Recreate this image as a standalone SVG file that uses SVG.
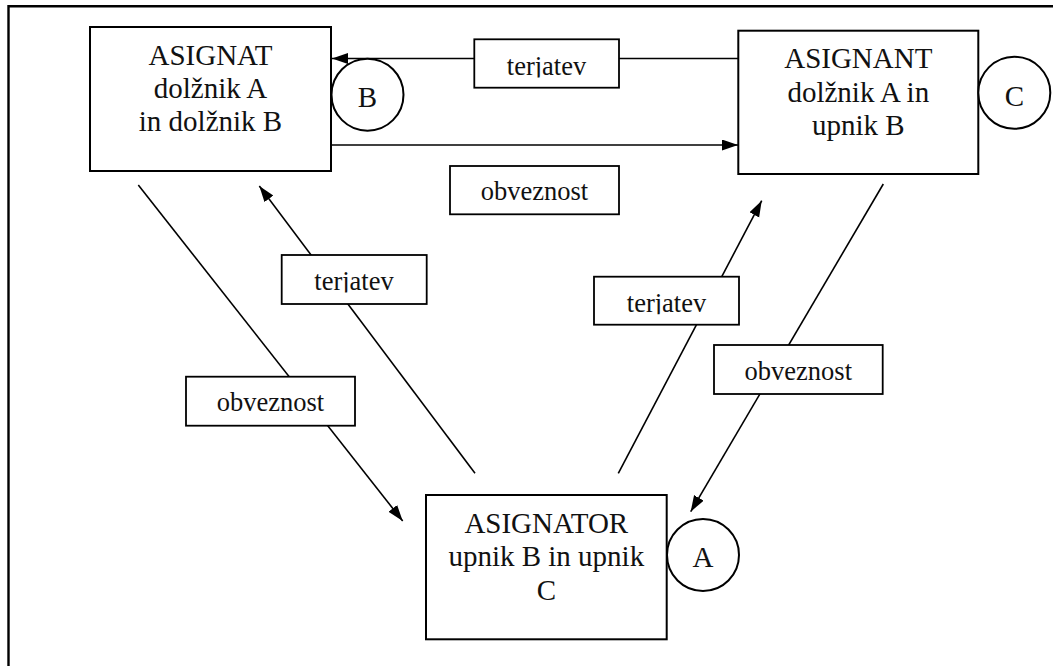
<svg xmlns="http://www.w3.org/2000/svg" width="1053" height="666" viewBox="0 0 1053 666">
<style>
.frame{fill:none;stroke:#000;stroke-width:2.4}
.box{fill:#fff;stroke:#000;stroke-width:2}
.lbl{fill:#fff;stroke:#000;stroke-width:1.8}
.ln{fill:none;stroke:#000;stroke-width:1.6}
.nt{font-family:'Liberation Serif','Times New Roman','DejaVu Serif',serif;font-size:29px;fill:#111;text-anchor:middle}
.lt{font-family:'Liberation Serif','Times New Roman','DejaVu Serif',serif;font-size:26.5px;fill:#111;text-anchor:middle}
</style>
<defs>
<marker id="arr" markerUnits="userSpaceOnUse" markerWidth="17" markerHeight="12" refX="16" refY="5.5" orient="auto">
<path d="M0,0 L16,5.5 L0,11 z" fill="#000"/>
</marker>
<clipPath id="c1"><rect x="470" y="35" width="150" height="42.5"/></clipPath>
<clipPath id="c2"><rect x="280" y="250" width="150" height="42.5"/></clipPath>
<clipPath id="c3"><rect x="590" y="272" width="150" height="42.2"/></clipPath>
</defs>
<rect width="1053" height="666" fill="#fff"/>
<path class="frame" d="M8.5,670 L8.5,6.2 L1060,6.2"/>
<g id="connectors">
<line class="ln" x1="739" y1="58.5" x2="332" y2="58.5" marker-end="url(#arr)"/>
<line class="ln" x1="331" y1="145" x2="738" y2="145" marker-end="url(#arr)"/>
<line class="ln" x1="138.3" y1="185" x2="402.7" y2="521" marker-end="url(#arr)"/>
<line class="ln" x1="475" y1="473.3" x2="259.3" y2="186" marker-end="url(#arr)"/>
<line class="ln" x1="618.3" y1="473.3" x2="761.7" y2="200.7" marker-end="url(#arr)"/>
<line class="ln" x1="883.3" y1="184" x2="690.7" y2="511.7" marker-end="url(#arr)"/>
<g id="label-terjatev-top"><rect class="lbl" x="474.3" y="39.3" width="144.7" height="48.4"/><text class="lt" font-family="Liberation Serif, serif" x="546.5" y="75" clip-path="url(#c1)">terjatev</text></g>
<g id="label-obveznost-mid"><rect class="lbl" x="450" y="166" width="169" height="48.3"/><text class="lt" font-family="Liberation Serif, serif" x="534.5" y="200">obveznost</text></g>
<g id="label-obveznost-left"><rect class="lbl" x="186" y="376.7" width="169" height="49"/><text class="lt" font-family="Liberation Serif, serif" x="270.5" y="410.7">obveznost</text></g>
<g id="label-terjatev-left"><rect class="lbl" x="281.7" y="255" width="145" height="49"/><text class="lt" font-family="Liberation Serif, serif" x="354" y="290" clip-path="url(#c2)">terjatev</text></g>
<g id="label-terjatev-right"><rect class="lbl" x="594" y="276.7" width="145" height="48"/><text class="lt" font-family="Liberation Serif, serif" x="666.5" y="311.7" clip-path="url(#c3)">terjatev</text></g>
<g id="label-obveznost-right"><rect class="lbl" x="714" y="345" width="168.7" height="49"/><text class="lt" font-family="Liberation Serif, serif" x="798.3" y="380">obveznost</text></g>
</g>
<g id="asignat" font-family="Liberation Serif, serif">
<rect class="box" x="90" y="27" width="241" height="144"/>
<text class="nt" x="210.5" y="65">ASIGNAT</text>
<text class="nt" x="210.5" y="98.3">dolžnik A</text>
<text class="nt" x="210.5" y="131.3">in dolžnik B</text>
</g>
<g id="circle-b">
<circle class="box" cx="367.5" cy="94.7" r="36"/>
<text class="nt" x="367.5" y="106.5">B</text>
</g>
<g id="asignant">
<rect class="box" x="738.3" y="30.7" width="240" height="143.3"/>
<text class="nt" x="858.3" y="68.3">ASIGNANT</text>
<text class="nt" x="858.3" y="101.7">dolžnik A in</text>
<text class="nt" x="858.3" y="135">upnik B</text>
</g>
<g id="circle-c">
<circle class="box" cx="1014.3" cy="92.8" r="36"/>
<text class="nt" x="1014.3" y="105.5">C</text>
</g>
<g id="asignator">
<rect class="box" x="426" y="495" width="240.7" height="144.3"/>
<text class="nt" x="546.3" y="532.7">ASIGNATOR</text>
<text class="nt" x="546.3" y="566.4">upnik B in upnik</text>
<text class="nt" x="546.3" y="599.5">C</text>
</g>
<g id="circle-a">
<circle class="box" cx="703" cy="555" r="36"/>
<text class="nt" x="703" y="566.5">A</text>
</g>
</svg>
